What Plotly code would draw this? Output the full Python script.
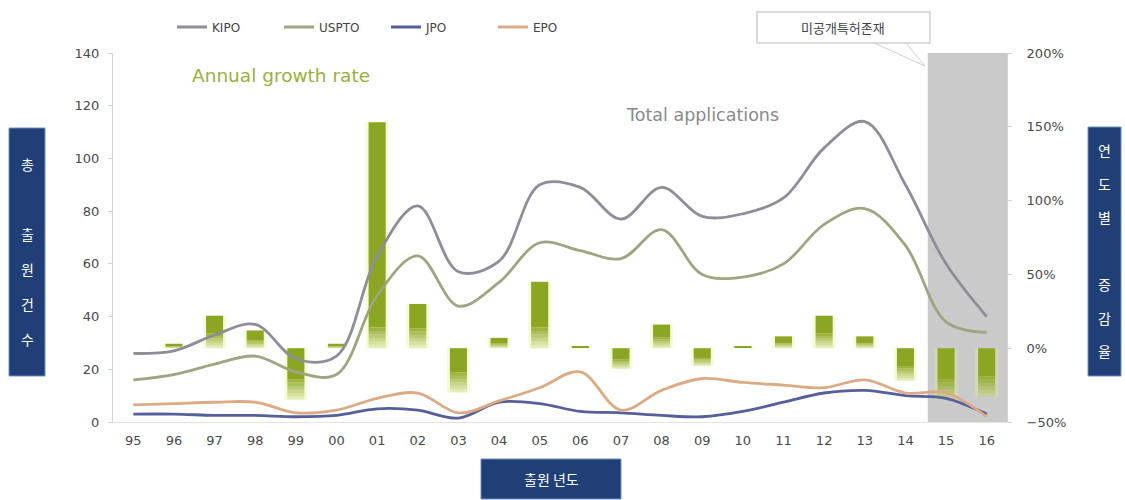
import plotly.graph_objects as go

# Application years (two-digit labels) and filings per patent office
years = ["95", "96", "97", "98", "99", "00", "01", "02", "03", "04", "05",
         "06", "07", "08", "09", "10", "11", "12", "13", "14", "15", "16"]
kipo = [26, 27, 33, 37, 24, 25, 63, 82, 57, 61, 90, 89, 77, 89, 78, 79, 85, 104, 114, 90, 60, 40]
uspto = [16, 18, 22, 25, 19, 18, 48, 63, 44, 53, 68, 65, 62, 73, 56, 55, 60, 75, 81, 67, 38, 34]
jpo = [3, 3, 2.5, 2.5, 2, 2.5, 5, 4.5, 1.5, 7.5, 7, 4, 3.5, 2.5, 2, 4, 7.5, 11, 12, 10, 9, 3]
epo = [6.5, 7, 7.5, 7.5, 3.5, 4.5, 9, 11, 3.5, 8, 13, 19, 4.5, 12, 16.5, 15, 14, 13, 16, 11, 11, 2]
# Year-over-year growth rate of applications (%)
growth = [None, 3, 22, 12, -35, 3, 153, 30, -30, 7, 45, 1, -14, 16, -12, 1, 8, 22, 8, -22, -35, -33]

W, H = 1125, 500
L, R, T, B = 113, 118, 53, 78
PW, PH = W - L - R, H - T - B


def px(x):
    return (x - L) / PW


def py(y):
    return (H - B - y) / PH


fig = go.Figure()

BAR_RGB = (139, 166, 35)
BAR_W = 0.42

# soft glow behind each growth bar
fig.add_trace(go.Bar(
    x=years, y=[None if g is None else g / 100 for g in growth],
    width=0.56, marker=dict(color="rgba(232,240,140,0.35)", line_width=0),
    yaxis="y", showlegend=False, hoverinfo="skip"))

# growth bars: solid upper part, fading toward the lower end
solid_base, solid_len = [], []
fade_parts = []
for g in growth:
    if g is None:
        solid_base.append(None)
        solid_len.append(None)
        fade_parts.append(None)
        continue
    v = g / 100
    fade = min(0.45 * abs(v), 0.14)
    if v >= 0:
        solid_base.append(fade)
        solid_len.append(v - fade)
        fade_parts.append((fade, 0.0))
    else:
        solid_base.append(0.0)
        solid_len.append(v + fade)
        fade_parts.append((v + fade, v))

fig.add_trace(go.Bar(
    x=years, y=solid_len, base=solid_base, width=BAR_W,
    marker=dict(color="rgb(%d,%d,%d)" % BAR_RGB, line_width=0),
    yaxis="y", showlegend=False, hoverinfo="skip"))

N = 6
for k in range(N):
    bases, lens = [], []
    for fp in fade_parts:
        if fp is None:
            bases.append(None)
            lens.append(None)
            continue
        top, bot = fp
        step = (bot - top) / N
        bases.append(top + k * step)
        lens.append(step)
    alpha = 0.9 - 0.8 * (k + 0.5) / N
    fig.add_trace(go.Bar(
        x=years, y=lens, base=bases, width=BAR_W,
        marker=dict(color="rgba(%d,%d,%d,%.2f)" % (BAR_RGB + (alpha,)), line_width=0),
        yaxis="y", showlegend=False, hoverinfo="skip"))

# application count lines
line_specs = [
    ("KIPO", kipo, "#8e8e99"),
    ("USPTO", uspto, "#9ea580"),
    ("JPO", jpo, "#55609a"),
    ("EPO", epo, "#dcab86"),
]
for name, vals, col in line_specs:
    fig.add_trace(go.Scatter(
        x=years, y=vals, name=name, mode="lines", yaxis="y2",
        line=dict(color=col, width=2.8, shape="spline", smoothing=1.0)))

tickfont = dict(family="DejaVu Sans, sans-serif", size=13, color="#4a4a4a")

fig.update_layout(
    width=W, height=H,
    margin=dict(l=L, r=R, t=T, b=B),
    paper_bgcolor="white", plot_bgcolor="white",
    barmode="overlay",
    showlegend=True,
    legend=dict(orientation="h", x=px(172), xanchor="left", y=py(27), yanchor="middle",
                font=dict(family="DejaVu Sans, sans-serif", size=12, color="#444444"),
                entrywidth=62, entrywidthmode="pixels", itemwidth=30,
                bgcolor="rgba(0,0,0,0)", traceorder="normal"),
    xaxis=dict(type="category", showgrid=False, showline=True, linecolor="#e4e4e4",
               ticks="outside", ticklen=6, tickcolor="rgba(0,0,0,0)", tickfont=tickfont,
               zeroline=False),
    yaxis=dict(side="right", range=[-0.5, 2.0], dtick=0.5, tickformat=".0%",
               showgrid=False, zeroline=False, showline=True, linecolor="#d4d4d4",
               ticks="outside", ticklen=4, tickcolor="#d4d4d4", tickfont=tickfont,
               ticklabelstandoff=12),
    yaxis2=dict(side="left", overlaying="y", range=[0, 140], dtick=20,
                showgrid=False, zeroline=False, showline=True, linecolor="#d4d4d4",
                ticks="outside", ticklen=4, tickcolor="#d4d4d4", tickfont=tickfont,
                ticklabelstandoff=6),
)

# shaded span for the years with unpublished applications
fig.add_shape(type="rect", xref="x", yref="paper", x0=19.55, x1=21.5, y0=0, y1=1,
              fillcolor="rgba(150,150,150,0.5)", line_width=0, layer="below")

# callout box with pointer
fig.add_shape(type="path", xref="paper", yref="paper",
              path="M %f,%f L %f,%f L %f,%f Z" % (px(872), py(42), px(925), py(66), px(905), py(42)),
              fillcolor="white", line=dict(color="#cfcfcf", width=1))
fig.add_shape(type="rect", xref="paper", yref="paper",
              x0=px(757), x1=px(930), y0=py(43), y1=py(12),
              fillcolor="white", line=dict(color="#cfcfcf", width=1.5))
fig.add_annotation(xref="paper", yref="paper", x=px(843), y=py(28),
                   xanchor="center", yanchor="middle",
                   text="미공개특허존재", showarrow=False,
                   font=dict(family="Noto Sans CJK KR", size=13, color="#444444"))

# series captions
fig.add_annotation(xref="paper", yref="paper", x=px(190), y=py(75),
                   xanchor="left", yanchor="middle",
                   text="Annual growth rate", showarrow=False,
                   font=dict(family="DejaVu Sans, sans-serif", size=18.5, color="#9bb03c"))
fig.add_annotation(xref="paper", yref="paper", x=px(624), y=py(115),
                   xanchor="left", yanchor="middle",
                   text="Total applications", showarrow=False,
                   font=dict(family="DejaVu Sans, sans-serif", size=17.5, color="#8a8a8a"))

# axis title boxes
BOX_FILL = "#213f77"
BOX_LINE = "#6f8fc0"
title_font = dict(family="Noto Sans CJK KR", size=14, color="white")

fig.add_shape(type="rect", xref="paper", yref="paper",
              x0=px(9), x1=px(45), y0=py(376), y1=py(128),
              fillcolor=BOX_FILL, line=dict(color=BOX_LINE, width=1))
left_chars = ["총", "", "출", "원", "건", "수"]
for i, ch in enumerate(left_chars):
    if ch:
        fig.add_annotation(xref="paper", yref="paper", x=px(27), y=py(164 + 35 * i),
                           xanchor="center", yanchor="middle",
                           text=ch, showarrow=False, font=title_font)

fig.add_shape(type="rect", xref="paper", yref="paper",
              x0=px(1088), x1=px(1121), y0=py(376), y1=py(127),
              fillcolor=BOX_FILL, line=dict(color=BOX_LINE, width=1))
right_chars = ["연", "도", "별", "", "증", "감", "율"]
for i, ch in enumerate(right_chars):
    if ch:
        fig.add_annotation(xref="paper", yref="paper", x=px(1104.5), y=py(150 + 33.5 * i),
                           xanchor="center", yanchor="middle",
                           text=ch, showarrow=False, font=title_font)

fig.add_shape(type="rect", xref="paper", yref="paper",
              x0=px(481), x1=px(621), y0=py(499), y1=py(459),
              fillcolor=BOX_FILL, line=dict(color=BOX_LINE, width=1))
fig.add_annotation(xref="paper", yref="paper", x=px(551), y=py(479),
                   xanchor="center", yanchor="middle",
                   text="출원 년도", showarrow=False, font=title_font)

fig.write_html("out.html")
